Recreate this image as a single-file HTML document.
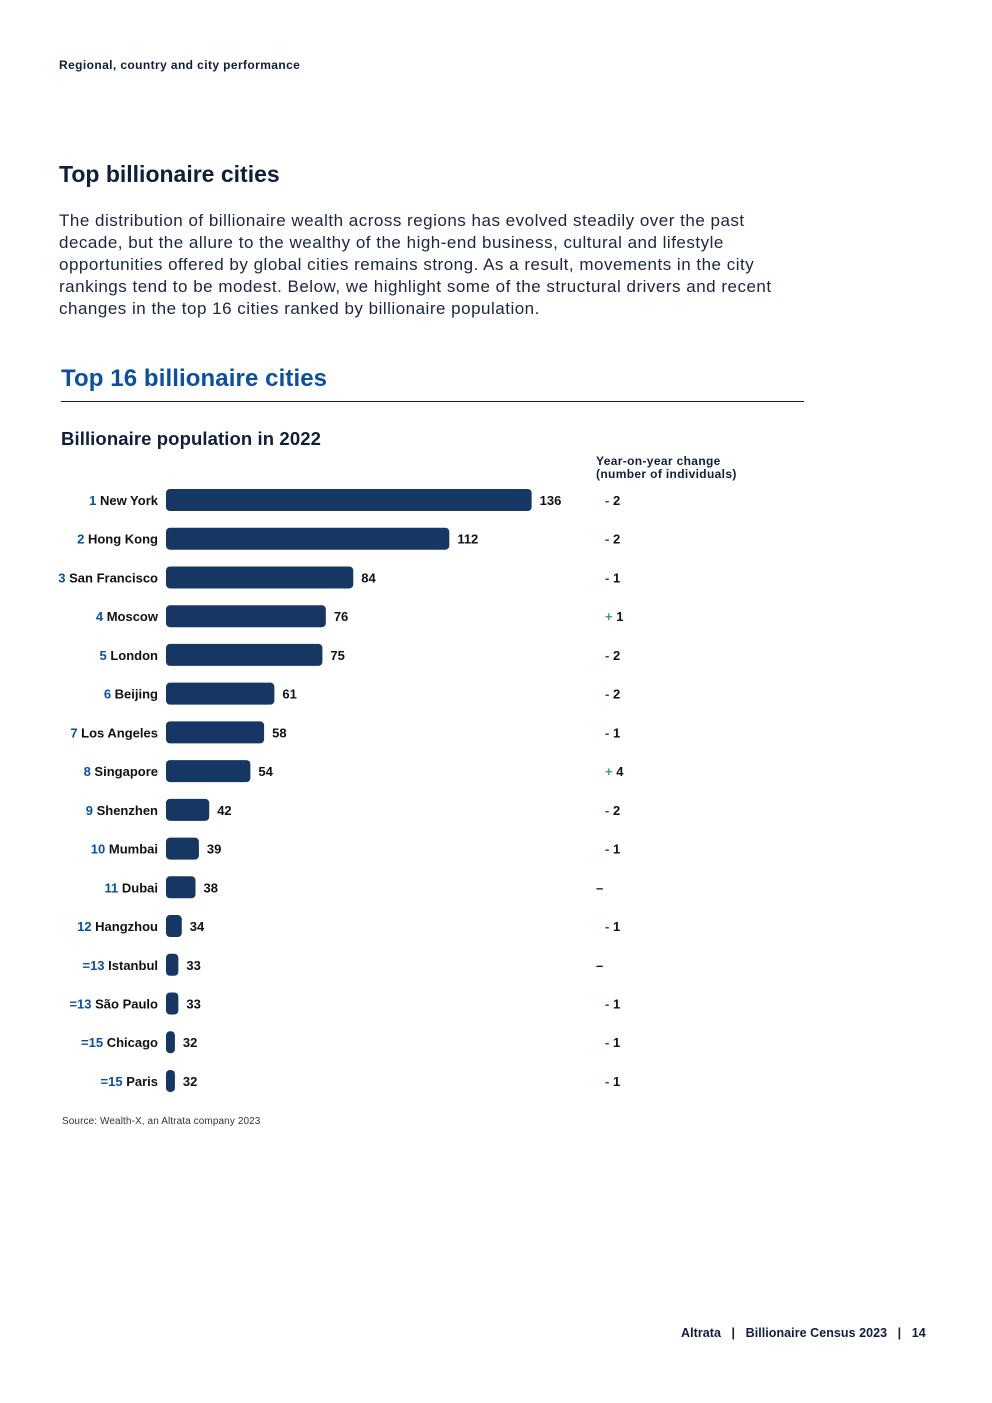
<!DOCTYPE html>
<html><head><meta charset="utf-8"><style>
body{margin:0;background:#fff;font-family:"Liberation Sans",Arial,sans-serif;}
#page{position:relative;width:992px;height:1403px;overflow:hidden;background:#fff;color:#0f1e3c;}
.abs{position:absolute;}
</style></head><body>
<div id="page">
<div class="abs" style="left:59px;top:58px;font-size:12px;font-weight:bold;letter-spacing:0.4px;">Regional, country and city performance</div>
<div class="abs" style="left:59px;top:161px;font-size:23px;font-weight:bold;letter-spacing:0px;">Top billionaire cities</div>
<div class="abs" style="left:59px;top:210px;white-space:nowrap;font-size:17px;line-height:22px;letter-spacing:0.5px;color:#1a2540;">The distribution of billionaire wealth across regions has evolved steadily over the past<br>decade, but the allure to the wealthy of the high-end business, cultural and lifestyle<br>opportunities offered by global cities remains strong. As a result, movements in the city<br>rankings tend to be modest. Below, we highlight some of the structural drivers and recent<br>changes in the top 16 cities ranked by billionaire population.</div>
<div class="abs" style="left:61px;top:365px;font-size:24px;font-weight:bold;color:#0a4fa6;letter-spacing:0.1px;">Top 16 billionaire cities</div>
<div class="abs" style="left:61px;top:401px;width:743px;height:1px;background:#222;"></div>
<div class="abs" style="left:61px;top:428px;font-size:18.5px;font-weight:bold;letter-spacing:0.1px;">Billionaire population in 2022</div>
<div class="abs" style="left:596px;top:455px;font-size:12px;font-weight:bold;line-height:13px;letter-spacing:0.35px;">Year-on-year change<br>(number of individuals)</div>
<svg id="chart" class="abs" style="left:0;top:0" width="992" height="1403"></svg>
<div class="abs" style="left:62px;top:1116px;font-size:10px;color:#333;letter-spacing:0.1px;">Source: Wealth-X, an Altrata company 2023</div>
<div class="abs" style="left:681px;top:1326px;font-size:12.5px;font-weight:bold;letter-spacing:0.05px;">Altrata &nbsp;&nbsp;|&nbsp;&nbsp; Billionaire Census 2023 &nbsp;&nbsp;|&nbsp;&nbsp; 14</div>
</div>
<script>
const ranks=["1","2","3","4","5","6","7","8","9","10","11","12","=13","=13","=15","=15"];
const cities=["New York","Hong Kong","San Francisco","Moscow","London","Beijing","Los Angeles","Singapore","Shenzhen","Mumbai","Dubai","Hangzhou","Istanbul","São Paulo","Chicago","Paris"];
const values=[136,112,84,76,75,61,58,54,42,39,38,34,33,33,32,32];
const changes=["-2","-2","-1","+1","-2","-2","-1","+4","-2","-1","–","-1","–","-1","-1","-1"];
const svg=document.getElementById('chart');
const NS='http://www.w3.org/2000/svg';
const x0=166,xMin=29.4,k=3.43;
const xw=v=>Math.max(8,(v-xMin)*k);
const yc=i=>500+i*38.73;
function mk(t,a){const e=document.createElementNS(NS,t);for(const p in a)e.setAttribute(p,a[p]);svg.appendChild(e);return e;}
values.forEach((v,i)=>{
  const y=yc(i),w=xw(v);
  const r=mk('rect',{x:x0,y:y-11,width:w,height:22,rx:4,fill:'#163763'});
  
  
  const lab=mk('text',{x:158,y:y+5,'text-anchor':'end','font-size':13,'font-weight':'bold',fill:'#111','font-family':'Liberation Sans, sans-serif'});
  
  
  const ts=document.createElementNS(NS,'tspan');ts.setAttribute('fill','#0a4fa6');ts.textContent=ranks[i]+' ';lab.appendChild(ts);
  lab.appendChild(document.createTextNode(cities[i]));
  const vl=mk('text',{x:x0+w+8,y:y+5,'font-size':13,'font-weight':'bold',fill:'#111','font-family':'Liberation Sans, sans-serif'});
  vl.textContent=values[i];
  
  
  const c=changes[i];
  const cl=mk('text',{x:c==='–'?596:605,y:y+5,'font-size':13,'font-weight':'bold',fill:'#111','font-family':'Liberation Sans, sans-serif'});
  
  
  if(c==='–'){cl.textContent='–';}
  else{const s=document.createElementNS(NS,'tspan');s.setAttribute('fill',c[0]==='+'?'#3aa57a':'#0a4fa6');s.textContent=c[0]==='-'?'- ':'+ ';cl.appendChild(s);cl.appendChild(document.createTextNode(c.slice(1)));}
});
</script>
</body></html>
